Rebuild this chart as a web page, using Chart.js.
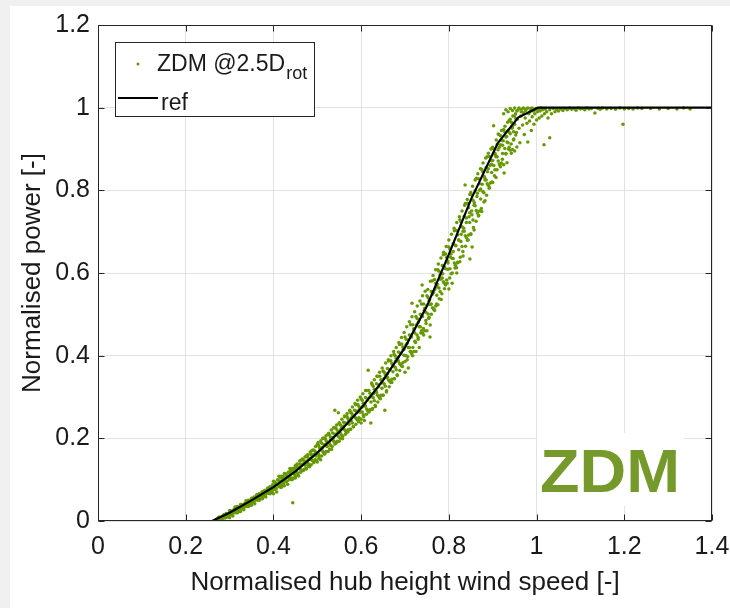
<!DOCTYPE html>
<html>
<head>
<meta charset="utf-8">
<script src="https://cdn.jsdelivr.net/npm/chart.js@4.4.1/dist/chart.umd.min.js"></script>
<style>
  html, body { margin: 0; padding: 0; background: #f0f0f0; }
  #frame { position: absolute; left: 10px; top: 6px; width: 720px; height: 602px; background: #fff; }
  canvas { display: block; }
</style>
</head>
<body>
<div id="frame"><canvas id="powerChart" width="720" height="602"></canvas></div>
<script>
const xTicks = [0, 0.2, 0.4, 0.6, 0.8, 1, 1.2, 1.4];
const xTickLabels = ['0', '0.2', '0.4', '0.6', '0.8', '1', '1.2', '1.4'];
const yTicks = [0, 0.2, 0.4, 0.6, 0.8, 1, 1.2];
const yTickLabels = ['0', '0.2', '0.4', '0.6', '0.8', '1', '1.2'];

// reference power curve
const refSpeed = [0, 0.26, 0.30, 0.35, 0.40, 0.45, 0.50, 0.55, 0.60, 0.65, 0.70, 0.75, 0.80, 0.85, 0.912, 0.958, 1.003, 1.4];
const refPower = [0, 0, 0.02, 0.05, 0.082, 0.12, 0.165, 0.215, 0.273, 0.34, 0.42, 0.52, 0.645, 0.777, 0.915, 0.976, 1.0, 1.0];

const zdmBand = [
  [0.27,0.001],[0.27,0.004],[0.2725,0.004],[0.2725,0.002],[0.275,0.009],[0.275,0.001],[0.2775,0.005],[0.2775,0.009],[0.28,0.009],[0.28,0.004],
  [0.2825,0.002],[0.2825,0.008],[0.285,0.013],[0.285,0.009],[0.2875,0.008],[0.2875,0.016],[0.29,0.013],[0.29,0.008],[0.2925,0.009],[0.2925,0.018],
  [0.295,0.01],[0.295,0.017],[0.2975,0.016],[0.2975,0.014],
  [0.3,0.025],[0.3,0.008],[0.3025,0.017],[0.3025,0.025],[0.305,0.023],[0.305,0.015],[0.3075,0.012],[0.3075,0.022],[0.31,0.028],[0.31,0.022],
  [0.3125,0.021],[0.3125,0.034],[0.315,0.028],[0.315,0.02],[0.3175,0.02],[0.3175,0.035],[0.32,0.022],[0.32,0.033],[0.3225,0.032],[0.3225,0.028],
  [0.325,0.04],[0.325,0.023],[0.3275,0.032],[0.3275,0.04],[0.33,0.038],[0.33,0.03],[0.3325,0.027],[0.3325,0.037],[0.335,0.043],[0.335,0.037],
  [0.3375,0.036],[0.3375,0.049],[0.34,0.043],[0.34,0.035],[0.3425,0.035],[0.3425,0.05],[0.345,0.037],[0.345,0.048],[0.3475,0.047],[0.3475,0.043],
  [0.35,0.055],[0.35,0.038],[0.3525,0.047],[0.3525,0.055],[0.355,0.053],[0.355,0.045],[0.3575,0.042],[0.3575,0.052],[0.36,0.058],[0.36,0.052],
  [0.3625,0.051],[0.3625,0.064],[0.365,0.059],[0.365,0.051],[0.3675,0.05],[0.3675,0.065],[0.37,0.053],[0.37,0.064],[0.3725,0.062],[0.3725,0.058],
  [0.375,0.071],[0.375,0.054],[0.3775,0.063],[0.3775,0.071],[0.38,0.069],[0.38,0.061],[0.3825,0.058],[0.3825,0.068],[0.385,0.074],[0.385,0.068],
  [0.3875,0.067],[0.3875,0.08],[0.39,0.075],[0.39,0.067],[0.3925,0.066],[0.3925,0.081],[0.395,0.069],[0.395,0.08],[0.3975,0.078],[0.3975,0.074],
  [0.4,0.096],[0.4,0.066],[0.4025,0.08],[0.4025,0.095],[0.405,0.091],[0.405,0.077],[0.4075,0.07],[0.4075,0.088],[0.41,0.099],[0.41,0.088],
  [0.4125,0.085],[0.4125,0.108],[0.415,0.097],[0.415,0.082],[0.4175,0.081],[0.4175,0.108],[0.42,0.084],[0.42,0.104],[0.4225,0.101],[0.4225,0.094],
  [0.425,0.115],[0.425,0.085],[0.4275,0.099],[0.4275,0.114],[0.43,0.11],[0.43,0.096],[0.4325,0.089],[0.4325,0.107],[0.435,0.118],[0.435,0.107],
  [0.4375,0.104],[0.4375,0.127],[0.44,0.116],[0.44,0.101],[0.4425,0.1],[0.4425,0.127],[0.445,0.103],[0.445,0.123],[0.4475,0.12],[0.4475,0.113],
  [0.45,0.134],[0.45,0.104],[0.4525,0.118],[0.4525,0.133],[0.455,0.13],[0.455,0.116],[0.4575,0.109],[0.4575,0.127],[0.46,0.138],[0.46,0.127],
  [0.4625,0.124],[0.4625,0.147],[0.465,0.137],[0.465,0.122],[0.4675,0.122],[0.4675,0.149],[0.47,0.125],[0.47,0.145],[0.4725,0.142],[0.4725,0.135],
  [0.475,0.157],[0.475,0.126],[0.4775,0.141],[0.4775,0.156],[0.48,0.152],[0.48,0.138],[0.4825,0.131],[0.4825,0.149],[0.485,0.161],[0.485,0.15],
  [0.4875,0.147],[0.4875,0.17],[0.49,0.16],[0.49,0.145],[0.4925,0.144],[0.4925,0.171],[0.495,0.148],[0.495,0.168],[0.4975,0.165],[0.4975,0.157],
  [0.5,0.185],[0.5,0.143],[0.5025,0.163],[0.5025,0.183],[0.505,0.178],[0.505,0.158],[0.5075,0.148],[0.5075,0.173],[0.51,0.188],[0.51,0.173],
  [0.5125,0.168],[0.5125,0.2],[0.515,0.185],[0.515,0.165],[0.5175,0.163],[0.5175,0.2],[0.52,0.168],[0.52,0.195],[0.5225,0.19],[0.5225,0.18],
  [0.525,0.21],[0.525,0.168],[0.5275,0.188],[0.5275,0.208],[0.53,0.203],[0.53,0.183],[0.5325,0.173],[0.5325,0.198],[0.535,0.213],[0.535,0.198],
  [0.5375,0.193],[0.5375,0.225],[0.54,0.21],[0.54,0.19],[0.5425,0.188],[0.5425,0.225],[0.545,0.193],[0.545,0.22],[0.5475,0.215],[0.5475,0.205],
  [0.55,0.235],[0.55,0.193],[0.5525,0.213],[0.5525,0.233],[0.555,0.228],[0.555,0.208],[0.5575,0.199],[0.5575,0.224],[0.56,0.239],[0.56,0.224],
  [0.5625,0.22],[0.5625,0.252],[0.565,0.237],[0.565,0.217],[0.5675,0.215],[0.5675,0.253],[0.57,0.221],[0.57,0.248],[0.5725,0.244],[0.5725,0.234],
  [0.575,0.264],[0.575,0.222],[0.5775,0.242],[0.5775,0.262],[0.58,0.257],[0.58,0.237],[0.5825,0.228],[0.5825,0.253],[0.585,0.268],[0.585,0.253],
  [0.5875,0.249],[0.5875,0.281],[0.59,0.266],[0.59,0.246],[0.5925,0.244],[0.5925,0.282],[0.595,0.25],[0.595,0.277],[0.5975,0.273],[0.5975,0.263],
  [0.6,0.296],[0.6,0.237],[0.6025,0.264],[0.6025,0.292],[0.605,0.285],[0.605,0.257],[0.6075,0.243],[0.6075,0.278],[0.61,0.299],[0.61,0.278],
  [0.6125,0.271],[0.6125,0.316],[0.615,0.295],[0.615,0.267],[0.6175,0.264],[0.6175,0.316],[0.62,0.27],[0.62,0.309],[0.6225,0.302],[0.6225,0.288],
  [0.625,0.33],[0.625,0.27],[0.6275,0.298],[0.6275,0.326],[0.63,0.319],[0.63,0.291],[0.6325,0.277],[0.6325,0.312],[0.635,0.332],[0.635,0.311],
  [0.6375,0.304],[0.6375,0.35],[0.64,0.329],[0.64,0.301],[0.6425,0.297],[0.6425,0.35],[0.645,0.304],[0.645,0.342],[0.6475,0.335],[0.6475,0.321],
  [0.65,0.363],[0.65,0.304],[0.6525,0.332],[0.6525,0.36],[0.655,0.354],[0.655,0.326],[0.6575,0.312],[0.6575,0.347],[0.66,0.369],[0.66,0.348],
  [0.6625,0.341],[0.6625,0.387],[0.665,0.366],[0.665,0.338],[0.6675,0.335],[0.6675,0.388],[0.67,0.343],[0.67,0.381],[0.6725,0.375],[0.6725,0.361],
  [0.675,0.403],[0.675,0.344],[0.6775,0.372],[0.6775,0.4],[0.68,0.394],[0.68,0.366],[0.6825,0.352],[0.6825,0.387],[0.685,0.409],[0.685,0.388],
  [0.6875,0.381],[0.6875,0.427],[0.69,0.406],[0.69,0.378],[0.6925,0.375],[0.6925,0.428],[0.695,0.383],[0.695,0.421],[0.6975,0.415],[0.6975,0.401],
  [0.7,0.445],[0.7,0.36],[0.7025,0.4],[0.7025,0.44],[0.705,0.43],[0.705,0.39],[0.7075,0.37],[0.7075,0.42],[0.71,0.45],[0.71,0.42],
  [0.7125,0.41],[0.7125,0.475],[0.715,0.445],[0.715,0.405],[0.7175,0.4],[0.7175,0.475],[0.72,0.41],[0.72,0.465],[0.7225,0.455],[0.7225,0.435],
  [0.725,0.495],[0.725,0.41],[0.7275,0.45],[0.7275,0.49],[0.73,0.48],[0.73,0.44],[0.7325,0.42],[0.7325,0.47],[0.735,0.5],[0.735,0.47],
  [0.7375,0.46],[0.7375,0.525],[0.74,0.495],[0.74,0.455],[0.7425,0.45],[0.7425,0.525],[0.745,0.46],[0.745,0.515],[0.7475,0.505],[0.7475,0.485],
  [0.75,0.545],[0.75,0.46],[0.7525,0.501],[0.7525,0.541],[0.755,0.533],[0.755,0.493],[0.7575,0.474],[0.7575,0.524],[0.76,0.555],[0.76,0.525],
  [0.7625,0.516],[0.7625,0.581],[0.765,0.553],[0.765,0.513],[0.7675,0.509],[0.7675,0.584],[0.77,0.52],[0.77,0.575],[0.7725,0.566],[0.7725,0.546],
  [0.775,0.608],[0.775,0.523],[0.7775,0.564],[0.7775,0.604],[0.78,0.595],[0.78,0.555],[0.7825,0.536],[0.7825,0.586],[0.785,0.618],[0.785,0.588],
  [0.7875,0.579],[0.7875,0.644],[0.79,0.615],[0.79,0.575],[0.7925,0.571],[0.7925,0.646],[0.795,0.583],[0.795,0.638],[0.7975,0.629],[0.7975,0.609],
  [0.8,0.663],[0.8,0.561],[0.8025,0.61],[0.8025,0.658],[0.805,0.646],[0.805,0.598],[0.8075,0.575],[0.8075,0.635],[0.81,0.671],[0.81,0.635],
  [0.8125,0.624],[0.8125,0.702],[0.815,0.667],[0.815,0.619],[0.8175,0.613],[0.8175,0.703],[0.82,0.626],[0.82,0.692],[0.8225,0.68],[0.8225,0.656],
  [0.825,0.729],[0.825,0.627],[0.8275,0.676],[0.8275,0.724],[0.83,0.712],[0.83,0.664],[0.8325,0.641],[0.8325,0.701],[0.835,0.737],[0.835,0.701],
  [0.8375,0.69],[0.8375,0.768],[0.84,0.733],[0.84,0.685],[0.8425,0.679],[0.8425,0.769],[0.845,0.692],[0.845,0.758],[0.8475,0.746],[0.8475,0.722],
  [0.85,0.795],[0.85,0.693],[0.8525,0.741],[0.8525,0.789],[0.855,0.776],[0.855,0.728],[0.8575,0.704],[0.8575,0.764],[0.86,0.799],[0.86,0.763],
  [0.8625,0.751],[0.8625,0.829],[0.865,0.793],[0.865,0.745],[0.8675,0.738],[0.8675,0.828],[0.87,0.75],[0.87,0.816],[0.8725,0.803],[0.8725,0.779],
  [0.875,0.851],[0.875,0.749],[0.8775,0.797],[0.8775,0.845],[0.88,0.834],[0.88,0.794],[0.8825,0.775],[0.8825,0.825],[0.885,0.855],[0.885,0.825],
  [0.8875,0.816],[0.8875,0.881],[0.89,0.852],[0.89,0.812],[0.8925,0.807],[0.8925,0.882],[0.895,0.818],[0.895,0.873],[0.8975,0.863],[0.8975,0.843],
  [0.9,0.904],[0.9,0.819],[0.9025,0.86],[0.9025,0.9],[0.905,0.89],[0.905,0.85],[0.9075,0.831],[0.9075,0.881],[0.91,0.911],[0.91,0.881],
  [0.9125,0.871],[0.9125,0.936],[0.915,0.904],[0.915,0.864],[0.9175,0.857],[0.9175,0.932],[0.92,0.866],[0.92,0.921],[0.9225,0.909],[0.9225,0.889],
  [0.925,0.947],[0.925,0.862],[0.9275,0.901],[0.9275,0.941],[0.93,0.929],[0.93,0.889],[0.9325,0.867],[0.9325,0.917],[0.935,0.945],[0.935,0.915],
  [0.9375,0.904],[0.9375,0.969],[0.94,0.937],[0.94,0.897],[0.9425,0.89],[0.9425,0.965],[0.945,0.899],[0.945,0.954],[0.9475,0.942],[0.9475,0.922],
  [0.95,0.98],[0.95,0.895],[0.9525,0.934],[0.9525,0.974]
];

// a second, coarser pass over the same band
const zdmBandExtra = [
  [0.272,0.002],[0.278,0.004],[0.281,0.009],[0.284,0.006],[0.287,0.011],[0.29,0.008],[0.293,0.014],[0.296,0.012],[0.298,0.017],[0.301,0.015],
  [0.303,0.021],[0.306,0.018],[0.309,0.024],[0.311,0.02],[0.314,0.027],[0.316,0.023],[0.319,0.031],[0.321,0.026],[0.324,0.033],[0.326,0.029],
  [0.329,0.038],[0.331,0.032],[0.334,0.04],[0.336,0.035],[0.339,0.044],[0.341,0.038],[0.343,0.047],[0.346,0.041],[0.348,0.05],[0.35,0.044],
  [0.352,0.053],[0.354,0.047],[0.356,0.058],[0.358,0.05],[0.36,0.055],[0.362,0.062],[0.364,0.052],[0.366,0.059],[0.368,0.066],[0.37,0.056],
  [0.372,0.063],[0.374,0.07],[0.376,0.06],[0.378,0.067],[0.38,0.074],[0.382,0.064],[0.384,0.071],[0.386,0.078],[0.388,0.068],[0.39,0.075],
  [0.392,0.083],[0.394,0.072],[0.396,0.08],[0.398,0.088],[0.4,0.076],[0.402,0.085],[0.404,0.092],[0.406,0.079],[0.408,0.089],[0.41,0.1],
  [0.412,0.084],[0.414,0.094],[0.416,0.105],[0.418,0.088],[0.42,0.097],[0.422,0.108],[0.424,0.092],[0.426,0.102],[0.428,0.114],[0.43,0.096],
  [0.432,0.106],[0.434,0.118],[0.436,0.1],[0.438,0.111],[0.44,0.122],[0.442,0.104],[0.446,0.116],[0.448,0.128],[0.45,0.108],
  [0.452,0.124],[0.454,0.138],[0.456,0.112],[0.458,0.13],[0.46,0.145],[0.462,0.118],[0.464,0.134],[0.466,0.15],[0.468,0.122],[0.47,0.14],
  [0.472,0.155],[0.474,0.127],[0.476,0.145],[0.478,0.16],[0.48,0.132],[0.482,0.15],[0.484,0.167],[0.486,0.136],[0.488,0.155],[0.49,0.172],
  [0.492,0.141],[0.494,0.161],[0.496,0.18],[0.498,0.147],[0.5,0.166],[0.502,0.19],[0.504,0.152],[0.506,0.172],[0.508,0.194],[0.51,0.157],
  [0.512,0.178],[0.514,0.2],[0.516,0.162],[0.518,0.184],[0.52,0.206],[0.522,0.168],[0.524,0.19],[0.526,0.212],[0.528,0.174],[0.53,0.196],
  [0.532,0.22],[0.534,0.18],[0.536,0.202],[0.538,0.226],[0.54,0.186],[0.542,0.21],[0.544,0.232],[0.546,0.192],[0.548,0.216],[0.55,0.238],
  [0.552,0.2],[0.554,0.222],[0.556,0.246],[0.558,0.205],[0.56,0.23],[0.562,0.254],[0.564,0.21],[0.566,0.236],[0.568,0.26],[0.57,0.216],
  [0.572,0.242],[0.574,0.268],[0.576,0.222],[0.578,0.25],[0.58,0.276],[0.582,0.228],[0.584,0.256],[0.586,0.284],[0.588,0.234],[0.59,0.262],
  [0.592,0.292],[0.594,0.24],[0.596,0.268],[0.598,0.3],[0.6,0.246],[0.602,0.276],[0.604,0.308],[0.606,0.252],[0.608,0.284],[0.61,0.316],
  [0.612,0.258],[0.614,0.292],[0.618,0.265],[0.62,0.3],[0.624,0.334],[0.626,0.272],[0.628,0.308],[0.63,0.342],
  [0.632,0.28],[0.634,0.316],[0.636,0.35],[0.638,0.288],[0.64,0.325],[0.642,0.36],[0.644,0.296],[0.646,0.334],[0.648,0.37],[0.65,0.304],
  [0.652,0.345],[0.656,0.382],[0.658,0.315],[0.66,0.356],[0.662,0.39],[0.664,0.325],[0.666,0.366],[0.668,0.4],[0.67,0.335],[0.672,0.376],
  [0.674,0.41],[0.676,0.344],[0.678,0.386],[0.68,0.42],[0.682,0.354],[0.684,0.396],[0.686,0.432],[0.688,0.364],[0.69,0.405],[0.692,0.444],
  [0.694,0.374],[0.696,0.415],[0.698,0.456],[0.7,0.386],[0.702,0.426],[0.704,0.47],[0.706,0.398],[0.708,0.438],[0.71,0.482],[0.712,0.41],
  [0.714,0.45],[0.716,0.494],[0.718,0.42],[0.72,0.462],[0.722,0.506],[0.724,0.432],[0.726,0.474],[0.728,0.52],[0.73,0.444],[0.732,0.486],
  [0.734,0.532],[0.736,0.455],[0.738,0.498],[0.74,0.545],[0.742,0.466],[0.744,0.51],[0.746,0.556],[0.748,0.478],[0.75,0.522],
  [0.752,0.56],[0.754,0.49],[0.756,0.535],[0.758,0.58],[0.76,0.5],[0.762,0.548],[0.764,0.594],[0.766,0.512],[0.768,0.56],[0.77,0.608],
  [0.772,0.525],[0.774,0.572],[0.776,0.622],[0.778,0.538],[0.78,0.585],[0.782,0.636],[0.784,0.55],[0.786,0.598],[0.788,0.65],[0.79,0.562],
  [0.792,0.61],[0.794,0.664],[0.796,0.575],[0.798,0.624],[0.8,0.68],[0.802,0.588],[0.804,0.638],[0.806,0.694],[0.808,0.6],[0.81,0.652],
  [0.812,0.708],[0.814,0.612],[0.816,0.666],[0.818,0.722],[0.82,0.625],[0.822,0.68],[0.824,0.736],[0.826,0.638],[0.828,0.694],[0.83,0.75],
  [0.832,0.652],[0.834,0.708],[0.836,0.764],[0.838,0.665],[0.84,0.722],[0.842,0.778],[0.844,0.68],[0.846,0.736],[0.848,0.79],[0.85,0.695],
  [0.852,0.75],[0.854,0.81],[0.856,0.71],[0.858,0.77],[0.86,0.825],[0.862,0.725],[0.864,0.785],[0.866,0.84],[0.868,0.74],[0.87,0.8],
  [0.872,0.852],[0.874,0.756],[0.876,0.815],[0.878,0.866],[0.88,0.772],[0.882,0.83],[0.884,0.878],[0.886,0.788],[0.888,0.845],[0.89,0.89],
  [0.892,0.805],[0.894,0.86],[0.896,0.9],[0.898,0.82],[0.9,0.872],[0.904,0.835],[0.906,0.885],[0.908,0.922],[0.91,0.85],
  [0.912,0.898],[0.914,0.935],[0.916,0.862],[0.918,0.91],[0.92,0.945],[0.922,0.875],[0.924,0.92],[0.928,0.955],[0.93,0.888],
  [0.932,0.93],[0.934,0.965],[0.936,0.9],[0.938,0.94],[0.94,0.972],[0.942,0.912],[0.944,0.95],[0.946,0.98],[0.948,0.924],[0.95,0.96]
];

// rated region near 1 and the flat tail
const zdmTop = [
  [0.925,0.985],[0.93,0.995],[0.935,0.99],[0.94,0.998],[0.945,0.993],[0.95,0.999],[0.955,0.992],[0.96,0.999],[0.965,0.99],[0.97,0.999],
  [0.975,0.993],[0.98,0.999],[0.985,0.99],[0.99,0.999],[0.995,0.994],
  [0.952,0.985],[0.954,0.94],[0.956,0.972],[0.958,0.995],[0.96,0.95],[0.964,0.98],[0.966,0.996],[0.968,0.958],[0.97,0.988],[0.972,0.935],
  [0.974,0.975],[0.976,0.997],[0.978,0.962],[0.982,0.985],[0.984,0.968],[0.986,0.998],[0.988,0.945],[0.99,0.978],[0.992,0.992],
  [0.994,0.96],[0.996,0.985],[0.998,0.998],[1.0,0.97],[1.002,0.99],[1.004,0.997],[1.006,0.975],[1.008,0.992],[1.01,0.999],[1.012,0.98],
  [1.014,0.995],[1.018,0.985],[1.02,0.997],[1.023,0.99],[1.026,0.975],[1.03,0.995],[1.034,0.985],[1.038,0.998],
  [1.042,0.99],[1.046,0.996],[1.05,0.992],
  [1.055,0.997],[1.06,0.993],[1.065,0.998],[1.07,0.995],[1.075,0.999],[1.08,0.996],[1.085,0.998],[1.09,0.994],[1.095,0.999],[1.1,0.997],
  [1.105,0.998],[1.11,0.995],[1.115,0.999],[1.12,0.997],[1.125,0.998],[1.14,0.998],[1.145,0.996],[1.15,0.999],[1.16,0.997],
  [1.17,0.998],[1.18,0.996],[1.19,0.999],[1.2,0.997],[1.21,0.998],[1.22,0.997],[1.23,0.999],[1.24,0.998],[1.26,0.998],
  [1.28,0.997],[1.3,0.998],[1.32,0.997],[1.335,0.999],[1.35,0.997]
];

// isolated points away from the band
const zdmOutliers = [
  [0.444,0.044],[0.54,0.268],[0.548,0.262],[0.616,0.365],[0.622,0.237],[0.654,0.268],[0.716,0.527],[0.739,0.571],[0.757,0.445],
  [0.818,0.6],[0.848,0.634],[0.853,0.663],[0.837,0.813],[0.902,0.956],[0.926,0.842],[0.955,0.905],[0.962,0.915],[0.98,0.917],
  [1.017,0.91],[1.03,0.927],[1.133,0.987],[1.197,0.96]
];

const inkColor = '#1a1a1a';
const pointGreen = '#669900';
const labelGreen = '#76992b';
const fontFamily = "'Liberation Sans', Arial, sans-serif";

function fixedTicks(values) {
  return function (scale) {
    scale.ticks = values.map(v => ({ value: v }));
  };
}

// box, inward tick marks, legend with subscript, ZDM label
const matlabAxes = {
  id: 'matlabAxes',
  beforeDatasetsDraw(chart) {
    const { ctx, chartArea: a } = chart;
    ctx.save();
    const bw = 147, bh = 73;
    const bx = a.right - 28 - bw, by = a.bottom - 15 - bh;
    ctx.fillStyle = '#fff';
    ctx.fillRect(bx, by, bw, bh);
    ctx.fillStyle = labelGreen;
    ctx.font = 'bold 61px ' + fontFamily;
    ctx.textAlign = 'left';
    ctx.textBaseline = 'alphabetic';
    // slightly wide lettering, as in the reference
    ctx.translate(bx + 3, by + 59);
    ctx.scale(1.06, 1);
    ctx.fillText('ZDM', 0, 0);
    ctx.restore();
  },
  afterDraw(chart) {
    const { ctx, chartArea: a, scales: { x, y } } = chart;
    const L = Math.round(a.left) + 0.5, R = Math.round(a.right) - 0.5;
    const T = Math.round(a.top) + 0.5, B = Math.round(a.bottom) - 0.5;
    ctx.save();
    ctx.strokeStyle = '#262626';
    ctx.lineWidth = 1;
    ctx.beginPath();
    const tl = 6;
    xTicks.forEach(v => {
      const px = Math.round(x.getPixelForValue(v)) + 0.5;
      ctx.moveTo(px, B); ctx.lineTo(px, B - tl);
      ctx.moveTo(px, T); ctx.lineTo(px, T + tl);
    });
    yTicks.forEach(v => {
      const py = Math.round(y.getPixelForValue(v)) + 0.5;
      ctx.moveTo(L, py); ctx.lineTo(L + tl, py);
      ctx.moveTo(R, py); ctx.lineTo(R - tl, py);
    });
    ctx.stroke();
    ctx.strokeRect(L, T, R - L, B - T);

    // legend
    const lx = Math.round(a.left) + 17.5, ly = Math.round(a.top) + 17.5;
    ctx.fillStyle = '#fff';
    ctx.fillRect(lx, ly, 199, 74);
    ctx.strokeStyle = '#262626';
    ctx.strokeRect(lx, ly, 199, 74);
    ctx.fillStyle = pointGreen;
    ctx.beginPath();
    ctx.arc(a.left + 40, a.top + 39, 1.5, 0, Math.PI * 2);
    ctx.fill();
    ctx.fillStyle = inkColor;
    ctx.textAlign = 'left';
    ctx.textBaseline = 'alphabetic';
    ctx.font = '23px ' + fontFamily;
    const mainText = 'ZDM @2.5D';
    ctx.fillText(mainText, a.left + 59, a.top + 46);
    const w = ctx.measureText(mainText).width;
    ctx.font = '18px ' + fontFamily;
    ctx.fillText('rot', a.left + 60 + w, a.top + 54);
    ctx.font = '23px ' + fontFamily;
    ctx.fillText('ref', a.left + 63, a.top + 85);
    ctx.strokeStyle = '#000';
    ctx.lineWidth = 2;
    ctx.beginPath();
    ctx.moveTo(a.left + 20, a.top + 73);
    ctx.lineTo(a.left + 60, a.top + 73);
    ctx.stroke();
    ctx.restore();
  }
};

const zdmAll = zdmBand.concat(zdmBandExtra, zdmTop, zdmOutliers);

const ctx = document.getElementById('powerChart').getContext('2d');
new Chart(ctx, {
  type: 'scatter',
  data: {
    datasets: [{
      label: 'ZDM @2.5D rot',
      data: zdmAll.map(p => ({ x: p[0], y: p[1] })),
      backgroundColor: pointGreen,
      borderWidth: 0,
      pointRadius: 1.75,
      order: 1
    }, {
      label: 'ref',
      data: refSpeed.map((s, i) => ({ x: s, y: refPower[i] })),
      showLine: true,
      borderColor: '#000',
      borderWidth: 2.2,
      pointRadius: 0,
      tension: 0,
      order: 0
    }]
  },
  options: {
    responsive: false,
    animation: false,
    devicePixelRatio: 1,
    events: [],
    layout: { padding: { top: 19, right: 18, left: 0, bottom: 0 } },
    plugins: {
      legend: { display: false },
      tooltip: { enabled: false }
    },
    scales: {
      x: {
        type: 'linear',
        min: 0,
        max: 1.4,
        afterBuildTicks: fixedTicks(xTicks),
        afterFit: scale => {
          scale.height = 87;
          scale.paddingLeft = 0;
          scale.paddingRight = 0;
        },
        grid: { color: '#e2e2e2', drawTicks: false },
        border: { display: false },
        ticks: {
          padding: 11,
          color: inkColor,
          font: { family: fontFamily, size: 25 },
          maxRotation: 0,
          callback: v => xTickLabels[xTicks.indexOf(v)]
        },
        title: {
          display: true,
          text: 'Normalised hub height wind speed [-]',
          color: inkColor,
          font: { family: fontFamily, size: 26 },
          padding: { top: 0, bottom: 10 }
        }
      },
      y: {
        type: 'linear',
        min: 0,
        max: 1.2,
        afterBuildTicks: fixedTicks(yTicks),
        afterFit: scale => {
          scale.width = 88;
          scale.paddingTop = 0;
          scale.paddingBottom = 0;
        },
        grid: { color: '#e2e2e2', drawTicks: false },
        border: { display: false },
        ticks: {
          padding: 8,
          color: inkColor,
          font: { family: fontFamily, size: 25 },
          callback: v => yTickLabels[yTicks.indexOf(v)]
        },
        title: {
          display: true,
          text: 'Normalised power [-]',
          color: inkColor,
          font: { family: fontFamily, size: 26 },
          padding: { top: 7, bottom: 0 }
        }
      }
    }
  },
  plugins: [matlabAxes]
});
</script>
</body>
</html>
